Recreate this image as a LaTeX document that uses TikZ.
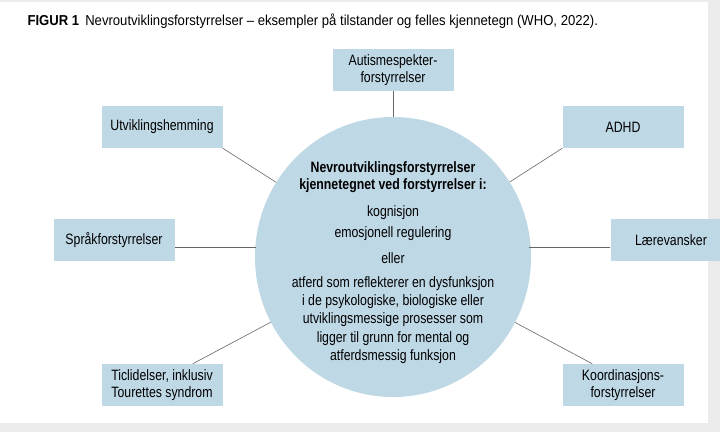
\documentclass[tikz,border=0pt]{standalone}
\usepackage{fontspec}
\setmainfont[FakeStretch=0.82]{Liberation Sans}
\newfontfamily\titlefont[FakeStretch=0.91]{Liberation Sans}
\usetikzlibrary{positioning, shapes.geometric}
\definecolor{boxblue}{HTML}{BFD8E6}
\definecolor{edgegray}{HTML}{EBEBEB}
\tikzset{
	% boxes round the circle
	item/.style={
		fill=boxblue,
		minimum width=121pt,
		minimum height=42pt,
		align=center,
		inner sep=1pt,
		font=\fontsize{15}{17}\selectfont
	}, %
	% lines from the boxes
	spoke/.style={
		draw=black!60,
		line width=0.6pt
	}, %
	txt/.style={
		font=\fontsize{15}{17.5}\selectfont,
		align=center
	} %
}

\begin{document}
\begin{tikzpicture}[x=1pt, y=-1pt]
			%% frame
			\useasboundingbox (0,0) rectangle (720,432);
			\fill [white] (0,0) rectangle (720,432);
			\fill [edgegray] (0,0) rectangle (720,2);
			\fill [edgegray] (708,0) rectangle (720,432);
			\fill [edgegray] (0,423) rectangle (720,432);
			\node [anchor=west, font=\titlefont\fontsize{14.4}{16}\selectfont] (title) at (24,21)
			{\textbf{FIGUR 1}\, Nevroutviklingsforstyrrelser – eksempler på tilstander og felles kjennetegn (WHO, 2022).};
			
			%% circle
			\node [ellipse, fill=boxblue, minimum width=276pt, minimum height=280pt, inner sep=0pt] (c) at (393,257) {};
			\node [txt, font=\fontsize{15}{17.5}\selectfont\bfseries] (head) at (393,177) {Nevroutviklingsforstyrrelser\\kjennetegnet ved forstyrrelser i:};
			\node [txt] (kog) at (393,213) {kognisjon};
			\node [txt] (emo) at (393,234) {emosjonell regulering};
			\node [txt] (eller) at (393,258) {eller};
			\node [txt, font=\fontsize{15}{18.3}\selectfont] (atf) at (393,320) {atferd som reflekterer en dysfunksjon\\i de psykologiske, biologiske eller\\utviklingsmessige prosesser som\\ligger til grunn for mental og\\atferdsmessig funksjon};
			
			%% boxes
			\node [item] (aut) at (393,70) {Autismespekter-\\forstyrrelser};
			\node [item] (utv) at (162,127) {Utviklingshemming};
			\node [item] (adhd) at (623,127) {ADHD};
			\node [item] (spr) at (114,240) {Språkforstyrrelser};
			\node [item] (lae) at (671,240) {Lærevansker};
			\node [item] (tic) at (162,385) {Ticlidelser, inklusiv\\Tourettes syndrom};
			\node [item] (koo) at (623,385) {Koordinasjons-\\forstyrrelser};
			
			%% spokes
			\draw [spoke] (aut) -- (c);
			\draw [spoke] (utv.south east) -- (c);
			\draw [spoke] (adhd.south west) -- (c);
			\draw [spoke] ([yshift=-7pt]spr.east) -- ++(81,0);
			\draw [spoke] ([yshift=-7pt]lae.west) -- ++(-81,0);
			\draw [spoke] ([xshift=-30pt]tic.north east) -- (c);
			\draw [spoke] ([xshift=30pt]koo.north west) -- (c);
		\end{tikzpicture}
\end{document}
